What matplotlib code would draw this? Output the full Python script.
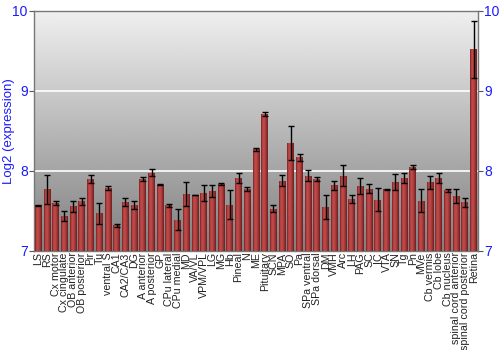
import numpy as np
import matplotlib
matplotlib.use('Agg')
import matplotlib.pyplot as plt

regions = ['LS', 'RS', 'Cx motor', 'Cx cingulate', 'OB anterior', 'OB posterior', 'Pir', 'Tu',
           'ventral S', 'CA1', 'CA2/CA3', 'DG', 'A anterior', 'A posterior', 'GP', 'CPu lateral',
           'CPu medial', 'MD', 'VA/VL', 'VPM/VPL', 'LG', 'MG', 'Hb', 'Pineal', 'N', 'ME',
           'Pituitary', 'SCN', 'MPA', 'SO', 'Pa', 'SPa ventral', 'SPa dorsal', 'DM', 'VMH', 'Arc',
           'LH', 'PAG', 'SC', 'IC', 'VTA', 'SN', 'Tg', 'Pn', 'MVe', 'Cb vermis', 'Cb lobe',
           'Cb nucleus', 'spinal cord anterior', 'spinal cord posterior', 'Retina']
expression = [7.57, 7.77, 7.60, 7.44, 7.56, 7.62, 7.90, 7.47,
              7.79, 7.32, 7.61, 7.58, 7.90, 7.98, 7.83, 7.57,
              7.39, 7.71, 7.70, 7.73, 7.75, 7.84, 7.58, 7.91, 7.78, 8.27,
              8.71, 7.53, 7.88, 8.35, 8.17, 7.94, 7.90, 7.55, 7.82, 7.94,
              7.65, 7.81, 7.78, 7.64, 7.77, 7.86, 7.91, 8.05, 7.63, 7.86, 7.91,
              7.76, 7.69, 7.61, 9.52]
errors = [0.005, 0.18, 0.02, 0.06, 0.07, 0.04, 0.05, 0.13,
          0.025, 0.02, 0.05, 0.05, 0.02, 0.045, 0.01, 0.02,
          0.13, 0.15, 0.005, 0.10, 0.08, 0.01, 0.18, 0.06, 0.025, 0.02,
          0.025, 0.045, 0.07, 0.21, 0.04, 0.07, 0.025, 0.15, 0.056, 0.13,
          0.05, 0.10, 0.056, 0.145, 0.01, 0.10, 0.06, 0.03, 0.14, 0.08, 0.065,
          0.02, 0.09, 0.056, 0.355]

blue = '#1a1aff'
fig = plt.figure(figsize=(5, 3.5), dpi=100)
ax = fig.add_axes([0.068, 0.283, 0.888, 0.686])
ax.set_xlim(-0.5, len(regions) - 0.5)
ax.set_ylim(7, 10)

# background gradient
grad = np.linspace(0.94, 0.50, 256).reshape(-1, 1)
ax.imshow(grad, cmap='gray', vmin=0, vmax=1, aspect='auto',
          extent=(-0.5, len(regions) - 0.5, 7, 10), zorder=0)
for y in (8, 9):
    ax.axhline(y, color='white', lw=1.2, zorder=1)

x = np.arange(len(regions))
bars = ax.bar(x, np.array(expression) - 7, bottom=7, width=0.8, color='#b03434',
              edgecolor='none', zorder=2)

# shading across each bar
shade = np.array([[0.45, 0.75, 0.9, 0.95, 0.9, 0.8, 0.65, 0.5, 0.35]])
cmap = matplotlib.colors.LinearSegmentedColormap.from_list('bar', ['#4a0c0c', '#c84c4c'])
for b in bars:
    im = ax.imshow(shade, cmap=cmap, vmin=0, vmax=1, aspect='auto', zorder=3,
                   extent=(b.get_x(), b.get_x() + b.get_width(), 7, b.get_height() + 7))
    im.set_clip_path(b)

ax.errorbar(x, expression, yerr=errors, fmt='none', ecolor='black', elinewidth=1,
            capsize=2.5, capthick=1, zorder=4)

ax.set_xticks(x)
ax.set_xticklabels(regions, rotation=90, fontsize=7.7, family='Liberation Sans', color='#222222')
ax.tick_params(axis='x', length=0, pad=1)
ax.set_yticks([7, 8, 9, 10])
ax.tick_params(axis='y', length=3.5, color='#555555', labelsize=10, labelcolor=blue,
               right=True, labelright=True, pad=1)
for lab in ax.yaxis.get_ticklabels(minor=False):
    lab.set_family('Liberation Sans')
ax.set_ylabel('Log2 (expression)', color=blue, fontsize=9.5, family='Liberation Sans')
ax.yaxis.set_label_coords(-0.042, 0.5)
for s in ax.spines.values():
    s.set_color('#777777')
    s.set_linewidth(1)

fig.savefig('out.png', dpi=100)
